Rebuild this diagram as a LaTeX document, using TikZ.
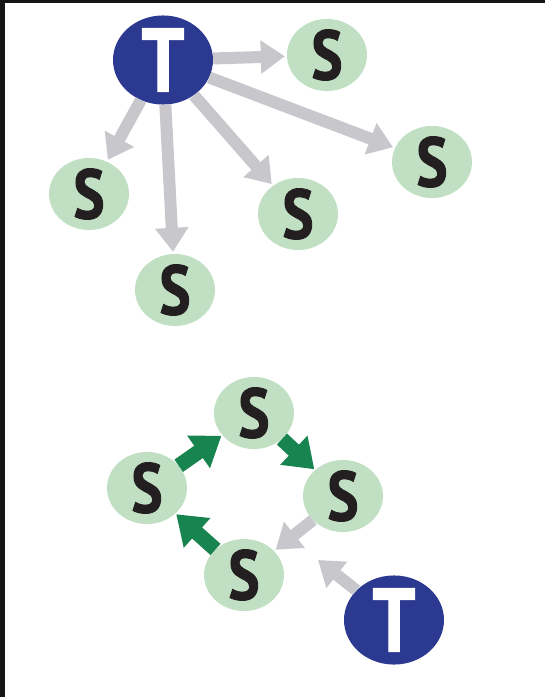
\documentclass[tikz,border=0pt]{standalone}
\usepackage{fontspec}
\setmainfont{PT Sans}
\newfontfamily\letterfont[FakeStretch=0.84,BoldFeatures={FakeBold=1.3}]{PT Sans}
\usepackage{tikz}
\usetikzlibrary{shapes.geometric,arrows.meta}
\definecolor{tblue}{RGB}{43,57,144}
\definecolor{sgreen}{RGB}{193,224,195}
\definecolor{sink}{RGB}{35,31,32}
\definecolor{linkgray}{RGB}{200,200,204}
\definecolor{ringgreen}{RGB}{24,132,80}
\definecolor{frame}{RGB}{20,20,20}
\tikzstyle{tnode}=[ellipse, fill=tblue, text=white, minimum width=100pt, minimum height=88pt, inner sep=0pt, font=\letterfont\fontsize{90}{90}\selectfont\bfseries]
\tikzstyle{snode}=[ellipse, fill=sgreen, text=sink, minimum width=80pt, minimum height=68pt, inner sep=0pt, font=\letterfont\fontsize{70}{70}\selectfont\bfseries]
\tikzstyle{link}=[draw=linkgray, line width=12pt, -{Triangle[width=32pt,length=24pt]}, shorten >=2pt]
\tikzstyle{ring}=[draw=ringgreen, line width=15pt, -{Triangle[width=38pt,length=28pt]}, shorten >=1pt]

\begin{document}
\begin{tikzpicture}[x=1pt,y=-1pt]
				\useasboundingbox (0,0) rectangle (545,697);
				%The frame edges
				\fill[frame] (0,0) rectangle (5,697);
				\fill[frame] (0,0) rectangle (545,3);
				
				%The star: one T and its S nodes
				\draw (163,60) node[tnode] (t1) {T};
				\draw (327,55) node[snode] (s1) {S};
				\draw (432,162) node[snode] (s2) {S};
				\draw (298,214) node[snode] (s3) {S};
				\draw (175,290) node[snode] (s4) {S};
				\draw (89,194) node[snode] (s5) {S};
				
				%The star edges
				\draw[link] (t1) -- (s1);
				\draw[link] (t1) -- (s2);
				\draw[link] (t1) -- (s3);
				\draw[link] (t1) -- (s4);
				\draw[link] (t1) -- (s5);
				
				%The ring of S nodes
				\draw (254,413) node[snode] (r1) {S};
				\draw (343,496) node[snode] (r2) {S};
				\draw (244,575) node[snode] (r3) {S};
				\draw (147,488) node[snode] (r4) {S};
				
				%The ring edges
				\draw[ring] (r4) -- (r1);
				\draw[ring] (r1) -- (r2);
				\draw[link] (r2) -- (r3);
				\draw[ring] (r3) -- (r4);
				
				%The second T, pointing at the grey edge
				\draw (394,620) node[tnode] (t2) {T};
				\coordinate (hit) at (318,560);
				\draw[link, shorten >=0pt] (t2) -- (hit);
\end{tikzpicture}
\end{document}
